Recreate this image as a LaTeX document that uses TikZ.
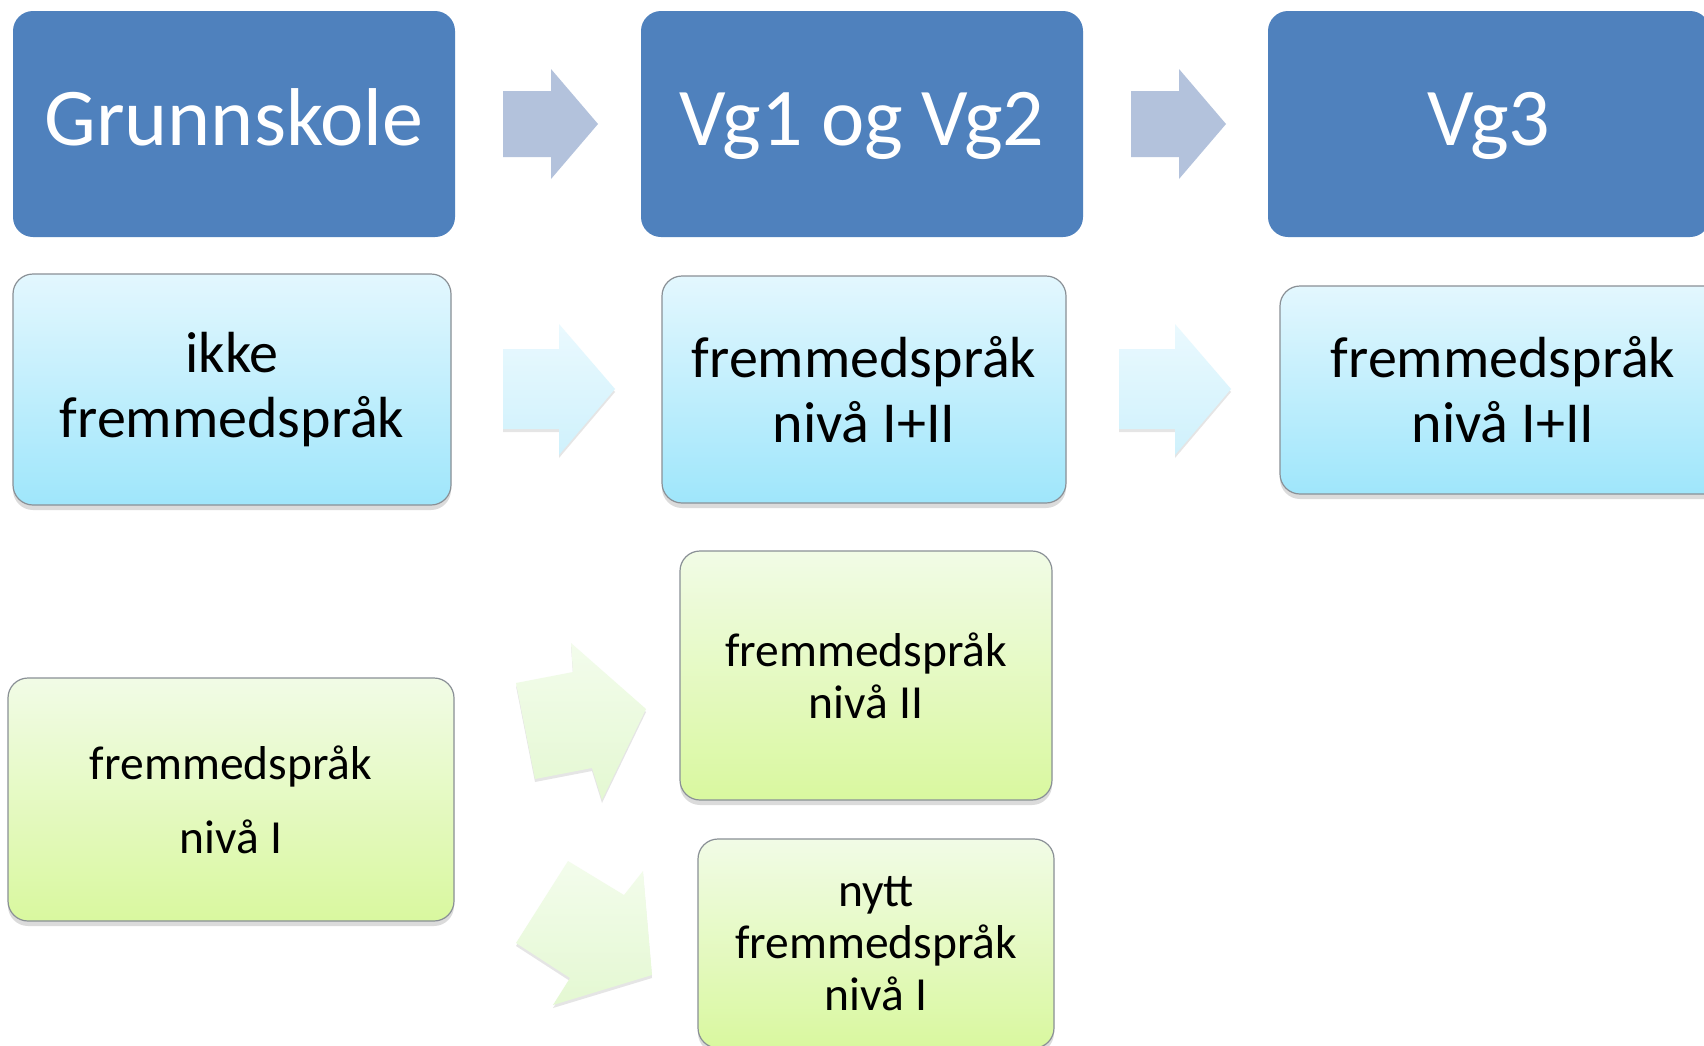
\documentclass[tikz,border=0pt]{standalone}
\usepackage{fontspec}
\setmainfont{Carlito}
\usetikzlibrary{shadows}
\definecolor{darkblue}{HTML}{4F81BD}
\definecolor{arrowblue}{HTML}{B3C2DC}
\definecolor{bluetop}{HTML}{E3F7FE}
\definecolor{bluebot}{HTML}{9FE6FB}
\definecolor{greentop}{HTML}{F1FBE6}
\definecolor{greenbot}{HTML}{D9F89F}
\definecolor{boxborder}{HTML}{8A9096}
\definecolor{larrowtop}{HTML}{EAF9FE}
\definecolor{larrowbot}{HTML}{CFF1FC}
\definecolor{garrowtop}{HTML}{F3FCEC}
\definecolor{garrowbot}{HTML}{E4F8D2}
\tikzset{
  headbox/.style={rectangle, rounded corners=20pt, fill=darkblue, text=white,
    minimum width=442pt, minimum height=226pt, inner sep=0pt,
    text height=56pt, text depth=14pt,
    font=\fontsize{82}{90}\selectfont},
  softbox/.style={rectangle, rounded corners=20pt, draw=boxborder, line width=1.2pt,
    align=center, inner sep=0pt,
    drop shadow={opacity=0.28, shadow xshift=0pt, shadow yshift=-5pt}},
  bluebox/.style={softbox, top color=bluetop, bottom color=bluebot,
    font=\fontsize{58}{65}\selectfont},
  greenbox/.style={softbox, top color=greentop, bottom color=greenbot,
    font=\fontsize{47.5}{52}\selectfont},
  toparrow/.style={fill=arrowblue},
  bluearrow/.style={top color=larrowtop, bottom color=larrowbot,
    drop shadow={opacity=0.2, shadow xshift=0pt, shadow yshift=-3pt}},
  greenarrow/.style={top color=garrowtop, bottom color=garrowbot,
    drop shadow={opacity=0.2, shadow xshift=0pt, shadow yshift=-3pt}},
}
\begin{document}
\begin{tikzpicture}[x=1pt,y=-1pt]
\useasboundingbox (0,0) rectangle (1704,1045);
\clip (0,0) rectangle (1704,1045);
\fill[white] (0,0) rectangle (1704,1045);

% header row
\node[headbox] (g1) at (234,124) {Grunnskole};
\node[headbox] (g2) at (862,124) {Vg1 og Vg2};
\node[headbox] (g3) at (1489,124) {Vg3};

% header arrows
\fill[toparrow] (503,91) -- (551,91) -- (551,69) -- (598,124) -- (551,179) -- (551,157) -- (503,157) -- cycle;
\fill[toparrow] (1131,91) -- (1179,91) -- (1179,69) -- (1226,124) -- (1179,179) -- (1179,157) -- (1131,157) -- cycle;

% blue row
\node[bluebox, minimum width=438pt, minimum height=231pt] (b1) at (232,389.5) {ikke\\fremmedspråk};
\node[bluebox, minimum width=404pt, minimum height=227pt] (b2) at (864,389.5) {fremmedspråk\\nivå I+II};
\node[bluebox, minimum width=446pt, minimum height=208pt] (b3) at (1503,390) {fremmedspråk\\nivå I+II};

% blue arrows
\path[bluearrow] (503,349) -- (559,349) -- (559,324) -- (615,389) -- (559,455) -- (559,429) -- (503,429) -- cycle;
\path[bluearrow] (1119,349) -- (1175,349) -- (1175,324) -- (1231,389) -- (1175,455) -- (1175,429) -- (1119,429) -- cycle;

% green boxes
\node[greenbox, minimum width=446pt, minimum height=243pt, font=\fontsize{47.5}{74}\selectfont] (c1) at (231,799.5) {fremmedspråk\\nivå I};
\node[greenbox, minimum width=372pt, minimum height=249pt] (c2) at (866,675.5) {fremmedspråk\\nivå II};
\node[greenbox, minimum width=356pt, minimum height=209pt] (c3) at (876,943.5) {nytt\\fremmedspråk\\nivå I};

% green arrows
\path[greenarrow] (516,683) -- (573,672) -- (571,643) -- (646,709) -- (602,800) -- (592,768) -- (535,779) -- cycle;
\path[greenarrow] (568,861) -- (624,895) -- (643,871) -- (652,975) -- (553,1005) -- (570,978) -- (516,943) -- cycle;
\end{tikzpicture}
\end{document}
